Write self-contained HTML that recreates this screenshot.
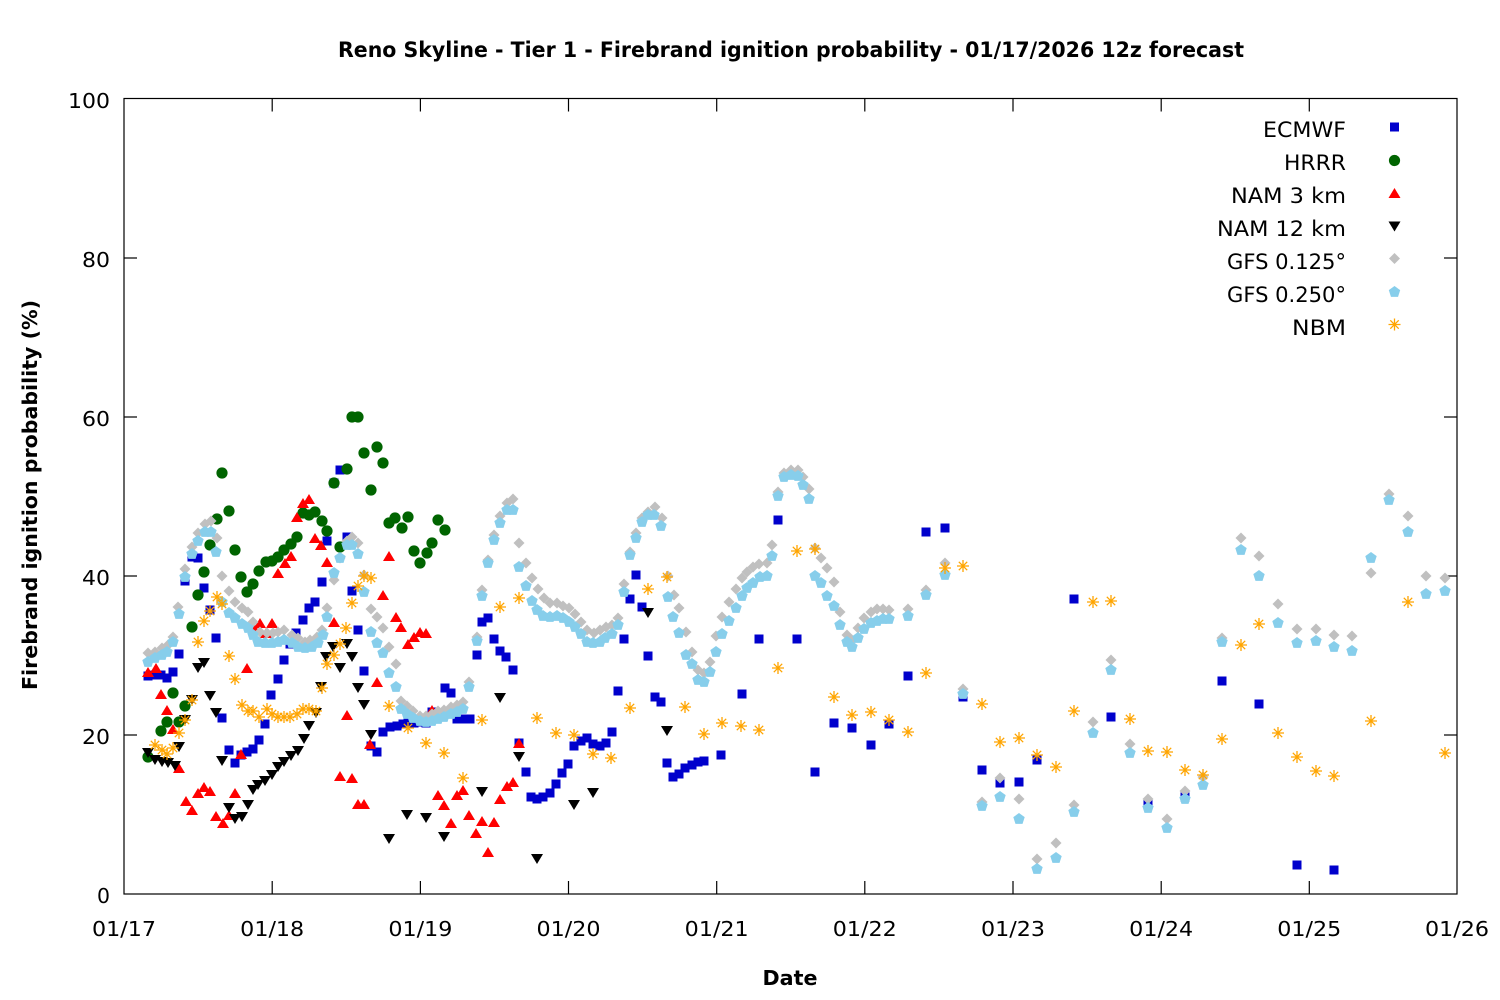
<!DOCTYPE html>
<html>
<head>
<meta charset="utf-8">
<style>
html,body{margin:0;padding:0;background:#fff;}
svg{display:block;}
text{font-family:"DejaVu Sans","Liberation Sans",sans-serif;fill:#000;}
.pl{fill:none;stroke:none;}
</style>
</head>
<body>
<svg width="1500" height="1000" viewBox="0 0 1500 1000" xmlns="http://www.w3.org/2000/svg">
<defs>
<marker id="sq" markerUnits="userSpaceOnUse" markerWidth="12" markerHeight="12" refX="6" refY="6" overflow="visible"><rect x="1.5" y="1.5" width="9" height="9" fill="#0000cc"/></marker>
<marker id="ci" markerUnits="userSpaceOnUse" markerWidth="12" markerHeight="12" refX="6" refY="6" overflow="visible"><circle cx="6" cy="6" r="5.6" fill="#006400"/></marker>
<marker id="tu" markerUnits="userSpaceOnUse" markerWidth="12" markerHeight="12" refX="6" refY="6" overflow="visible"><polygon points="0,11 12,11 6,1" fill="#ff0000"/></marker>
<marker id="td" markerUnits="userSpaceOnUse" markerWidth="12" markerHeight="12" refX="6" refY="6" overflow="visible"><polygon points="0,1 12,1 6,11" fill="#000000"/></marker>
<marker id="di" markerUnits="userSpaceOnUse" markerWidth="12" markerHeight="12" refX="6" refY="6" overflow="visible"><polygon points="6,0.5 11.5,6 6,11.5 0.5,6" fill="#c0c0c0"/></marker>
<marker id="pe" markerUnits="userSpaceOnUse" markerWidth="12" markerHeight="12" refX="6" refY="6" overflow="visible"><polygon points="6,0 11.7,4.15 9.53,10.85 2.47,10.85 0.3,4.15" fill="#87ceeb"/></marker>
<marker id="as" markerUnits="userSpaceOnUse" markerWidth="12" markerHeight="12" refX="6" refY="6" overflow="visible"><path d="M0,6 H12 M6,0 V12 M1.8,1.8 L10.2,10.2 M10.2,1.8 L1.8,10.2" stroke="#ffa500" stroke-width="1.3" fill="none"/></marker>
</defs>

<!-- Title -->
<text x="791" y="57" font-size="21" font-weight="bold" text-anchor="middle" textLength="906" lengthAdjust="spacingAndGlyphs">Reno Skyline - Tier 1 - Firebrand ignition probability - 01/17/2026 12z forecast</text>

<!-- Plot frame -->
<rect x="124" y="98.5" width="1333" height="795.5" fill="none" stroke="#000" stroke-width="1.2"/>

<!-- Ticks -->
<g stroke="#000" stroke-width="1.2">
<line x1="124" y1="735" x2="137" y2="735"/><line x1="1457" y1="735" x2="1444" y2="735"/>
<line x1="124" y1="576" x2="137" y2="576"/><line x1="1457" y1="576" x2="1444" y2="576"/>
<line x1="124" y1="417" x2="137" y2="417"/><line x1="1457" y1="417" x2="1444" y2="417"/>
<line x1="124" y1="258" x2="137" y2="258"/><line x1="1457" y1="258" x2="1444" y2="258"/>
<line x1="272.2" y1="894" x2="272.2" y2="881"/><line x1="272.2" y1="98.5" x2="272.2" y2="111.5"/>
<line x1="420.4" y1="894" x2="420.4" y2="881"/><line x1="420.4" y1="98.5" x2="420.4" y2="111.5"/>
<line x1="568.5" y1="894" x2="568.5" y2="881"/><line x1="568.5" y1="98.5" x2="568.5" y2="111.5"/>
<line x1="716.7" y1="894" x2="716.7" y2="881"/><line x1="716.7" y1="98.5" x2="716.7" y2="111.5"/>
<line x1="864.8" y1="894" x2="864.8" y2="881"/><line x1="864.8" y1="98.5" x2="864.8" y2="111.5"/>
<line x1="1013" y1="894" x2="1013" y2="881"/><line x1="1013" y1="98.5" x2="1013" y2="111.5"/>
<line x1="1161.2" y1="894" x2="1161.2" y2="881"/><line x1="1161.2" y1="98.5" x2="1161.2" y2="111.5"/>
<line x1="1309.3" y1="894" x2="1309.3" y2="881"/><line x1="1309.3" y1="98.5" x2="1309.3" y2="111.5"/>
</g>

<!-- Y tick labels -->
<g font-size="20" text-anchor="end">
<text x="110" y="903" textLength="13" lengthAdjust="spacingAndGlyphs">0</text>
<text x="110" y="744" textLength="28" lengthAdjust="spacingAndGlyphs">20</text>
<text x="110" y="585" textLength="28" lengthAdjust="spacingAndGlyphs">40</text>
<text x="110" y="426" textLength="28" lengthAdjust="spacingAndGlyphs">60</text>
<text x="110" y="267" textLength="28" lengthAdjust="spacingAndGlyphs">80</text>
<text x="110" y="108" textLength="42" lengthAdjust="spacingAndGlyphs">100</text>
</g>
<!-- X tick labels -->
<g font-size="20" text-anchor="middle">
<text x="124" y="936" textLength="64" lengthAdjust="spacingAndGlyphs">01/17</text>
<text x="272.2" y="936" textLength="64" lengthAdjust="spacingAndGlyphs">01/18</text>
<text x="420.4" y="936" textLength="64" lengthAdjust="spacingAndGlyphs">01/19</text>
<text x="568.5" y="936" textLength="64" lengthAdjust="spacingAndGlyphs">01/20</text>
<text x="716.7" y="936" textLength="64" lengthAdjust="spacingAndGlyphs">01/21</text>
<text x="864.8" y="936" textLength="64" lengthAdjust="spacingAndGlyphs">01/22</text>
<text x="1013" y="936" textLength="64" lengthAdjust="spacingAndGlyphs">01/23</text>
<text x="1161.2" y="936" textLength="64" lengthAdjust="spacingAndGlyphs">01/24</text>
<text x="1309.3" y="936" textLength="64" lengthAdjust="spacingAndGlyphs">01/25</text>
<text x="1457" y="936" textLength="64" lengthAdjust="spacingAndGlyphs">01/26</text>
</g>

<!-- Axis labels -->
<text x="790" y="985" font-size="20" font-weight="bold" text-anchor="middle" textLength="55" lengthAdjust="spacingAndGlyphs">Date</text>
<text transform="translate(37,495) rotate(-90)" x="0" y="0" font-size="20" font-weight="bold" text-anchor="middle" textLength="390" lengthAdjust="spacingAndGlyphs">Firebrand ignition probability (%)</text>

<!-- ECMWF -->
<polyline class="pl" marker-start="url(#sq)" marker-mid="url(#sq)" marker-end="url(#sq)" points="148,676 155,675 161,675 167,678 173,672 179,654 185,581 192,557 198,558 204,588 210,610 216,638 222,718 229,750 235,763 241,755 247,752 253,749 259,740 265,724 271,695 278,679 284,660 290,644 296,633 303,620 309,608 315,602 322,582 327,541 334,483 340,470 347,537 352,591 358,630 364,671 371,746 377,752 383,732 390,727 397,726 403,724 408,723 414,723 420,722 426,723 432,712 438,713 445,688 451,693 457,719 463,719 470,719 477,655 482,622 488,618 494,639 500,651 506,657 513,670 519,743 526,772 531,797 537,799 543,797 550,793 556,784 562,773 568,764 574,746 581,741 587,738 593,744 600,746 606,743 612,732 618,691 624,639 630,599 636,575 642,607 648,656 655,697 661,702 667,763 673,777 679,774 685,768 692,765 698,762 704,761 721,755 742,694 759,639 778,520 797,639 815,772 834,723 852,728 871,745 889,724 908,676 926,532 945,528 963,697 982,770 1000,783 1019,782 1037,760 1074,599 1111,717 1148,804 1185,797 1222,681 1259,704 1297,865 1334,870"/>

<!-- HRRR -->
<polyline class="pl" marker-start="url(#ci)" marker-mid="url(#ci)" marker-end="url(#ci)" points="148,757 161,731 167,722 173,693 179,722 185,706 192,627 198,595 204,572 210,545 217,519 222,473 229,511 235,550 241,577 247,592 253,584 259,571 266,562 272,561 278,557 284,550 291,544 297,537 303,513 309,515 315,512 322,521 327,531 334,483 340,547 347,469 352,417 358,417 364,453 371,490 377,447 383,463 389,523 395,518 402,528 408,517 414,551 420,563 427,553 432,543 438,520 445,530"/>

<!-- NAM 3 km -->
<polyline class="pl" marker-start="url(#tu)" marker-mid="url(#tu)" marker-end="url(#tu)" points="148,672 156,668 161,694 167,710 173,729 179,768 186,801 192,810 198,793 204,787 210,791 216,816 223,823 229,815 235,793 241,754 247,668 253,626 260,623 266,633 272,623 278,573 285,563 291,556 297,517 303,503 309,499 315,538 321,545 327,562 334,622 340,776 347,715 352,778 358,804 364,804 370,744 377,682 383,595 389,556 396,617 401,627 408,644 414,637 420,632 426,633 432,710 438,795 444,805 451,823 457,795 463,790 469,815 476,833 482,821 488,852 494,822 500,799 507,786 513,782 519,743"/>

<!-- NAM 12 km -->
<polyline class="pl" marker-start="url(#td)" marker-mid="url(#td)" marker-end="url(#td)" points="148,753 155,760 162,762 168,763 175,766 179,747 185,720 192,700 198,668 204,663 210,696 216,713 222,761 229,808 235,819 242,817 248,805 253,790 258,785 265,781 272,775 278,767 284,762 291,756 298,751 304,739 309,726 316,713 321,687 326,657 333,647 340,668 347,644 352,657 358,688 364,705 371,735 389,839 407,815 426,818 444,837 482,792 500,698 519,757 537,859 574,805 593,793 648,613 667,731"/>

<!-- GFS 0.125 -->
<polyline class="pl" marker-start="url(#di)" marker-mid="url(#di)" marker-end="url(#di)" points="148,653 155,652 162,648 168,645 173,637 178,607 185,569 192,547 198,533 205,524 211,521 217,538 222,576 229,591 235,602 242,608 248,612 253,622 260,632 267,633 273,633 278,632 284,630 292,635 298,638 305,642 310,640 317,637 322,630 327,608 334,580 340,558 347,541 352,537 358,543 364,575 371,609 377,617 383,628 389,647 396,664 401,701 407,706 413,711 420,716 426,716 432,714 438,711 444,710 451,707 457,705 463,702 469,682 477,637 482,590 488,560 494,535 500,516 507,503 513,499 519,543 526,563 532,578 538,589 544,598 550,603 557,603 563,606 569,608 575,614 581,622 587,630 594,633 600,630 606,627 612,625 618,618 624,584 630,552 636,533 642,518 648,512 655,507 662,518 668,576 674,595 679,608 686,632 692,652 698,670 704,673 710,662 716,636 722,617 729,602 736,589 742,578 747,572 753,567 759,564 767,563 772,545 778,492 784,473 791,470 798,470 803,477 809,489 815,548 821,558 827,568 834,582 840,612 847,635 852,640 858,628 864,618 871,612 877,609 883,609 889,610 908,609 926,590 945,563 963,689 982,802 1000,778 1019,799 1037,859 1056,843 1074,805 1093,722 1111,660 1130,744 1148,799 1167,819 1185,791 1203,777 1222,638 1241,538 1259,556 1278,604 1297,629 1316,629 1334,635 1352,636 1371,573 1389,494 1408,516 1426,576 1445,578"/>

<!-- GFS 0.250 -->
<polyline class="pl" marker-start="url(#pe)" marker-mid="url(#pe)" marker-end="url(#pe)" points="148,662 155,658 162,655 167,652 173,642 179,614 185,577 192,554 198,541 205,532 211,532 216,552 222,602 229,613 235,618 242,624 248,628 253,635 258,642 265,643 272,643 278,642 284,640 292,643 298,647 305,648 312,647 318,643 323,635 327,617 334,573 340,558 347,545 352,545 358,554 364,592 371,632 377,643 383,653 389,673 396,687 401,709 407,714 413,718 420,721 426,722 432,721 438,719 444,717 451,714 457,712 463,709 469,687 477,641 482,596 488,563 494,540 500,523 507,510 513,510 519,567 526,586 532,601 537,610 543,616 550,617 557,616 563,618 569,622 575,627 581,634 587,642 593,643 600,642 605,638 612,634 618,625 624,592 630,555 636,538 642,522 648,515 654,515 661,526 668,597 673,617 679,633 686,655 692,664 698,680 704,682 710,672 716,652 722,634 729,621 736,608 742,596 747,588 753,583 760,577 767,576 772,556 778,496 784,477 791,475 798,476 803,485 809,499 815,576 821,583 827,596 834,606 840,625 847,642 852,647 858,638 864,629 871,623 877,621 883,619 889,619 908,616 926,595 945,575 963,694 982,806 1000,797 1019,819 1037,869 1056,858 1074,812 1093,733 1111,670 1130,753 1148,808 1167,828 1185,799 1203,785 1222,642 1241,550 1259,576 1278,623 1297,643 1316,641 1334,647 1352,651 1371,558 1389,500 1408,532 1426,594 1445,591"/>

<!-- NBM -->
<polyline class="pl" marker-start="url(#as)" marker-mid="url(#as)" marker-end="url(#as)" points="155,745 162,750 167,754 173,748 179,733 185,720 192,700 198,642 204,621 210,611 217,597 222,604 229,656 235,679 242,705 248,711 253,711 259,717 267,709 272,714 278,717 284,717 290,717 297,714 303,709 309,709 316,711 322,688 327,664 334,655 340,644 346,628 352,603 358,586 364,576 371,578 389,706 408,728 426,743 444,753 463,778 482,720 500,607 519,598 537,718 556,733 574,735 593,754 611,758 630,708 648,589 667,577 685,707 704,734 722,723 741,726 759,730 778,668 797,551 815,549 834,697 852,715 871,712 889,720 908,732 926,673 945,568 963,566 982,704 1000,742 1019,738 1037,755 1056,767 1074,711 1093,602 1111,601 1130,719 1148,751 1167,752 1185,770 1203,775 1222,739 1241,645 1259,624 1278,733 1297,757 1316,771 1334,776 1371,721 1408,602 1445,753"/>

<!-- Legend -->
<g font-size="21" text-anchor="end">
<text x="1346" y="137" textLength="83" lengthAdjust="spacingAndGlyphs">ECMWF</text>
<text x="1346" y="170" textLength="62" lengthAdjust="spacingAndGlyphs">HRRR</text>
<text x="1346" y="203" textLength="115" lengthAdjust="spacingAndGlyphs">NAM 3 km</text>
<text x="1346" y="236" textLength="129" lengthAdjust="spacingAndGlyphs">NAM 12 km</text>
<text x="1346" y="269" textLength="119" lengthAdjust="spacingAndGlyphs">GFS 0.125°</text>
<text x="1346" y="302" textLength="119" lengthAdjust="spacingAndGlyphs">GFS 0.250°</text>
<text x="1346" y="335" textLength="54" lengthAdjust="spacingAndGlyphs">NBM</text>
</g>
<polyline class="pl" marker-start="url(#sq)" points="1394.5,127 1394.5,127"/>
<polyline class="pl" marker-start="url(#ci)" points="1394.5,160.5 1394.5,160.5"/>
<polyline class="pl" marker-start="url(#tu)" points="1394.5,193 1394.5,193"/>
<polyline class="pl" marker-start="url(#td)" points="1394.5,226.5 1394.5,226.5"/>
<polyline class="pl" marker-start="url(#di)" points="1394.5,258.5 1394.5,258.5"/>
<polyline class="pl" marker-start="url(#pe)" points="1394.5,292 1394.5,292"/>
<polyline class="pl" marker-start="url(#as)" points="1394.5,324.5 1394.5,324.5"/>
</svg>
</body>
</html>
